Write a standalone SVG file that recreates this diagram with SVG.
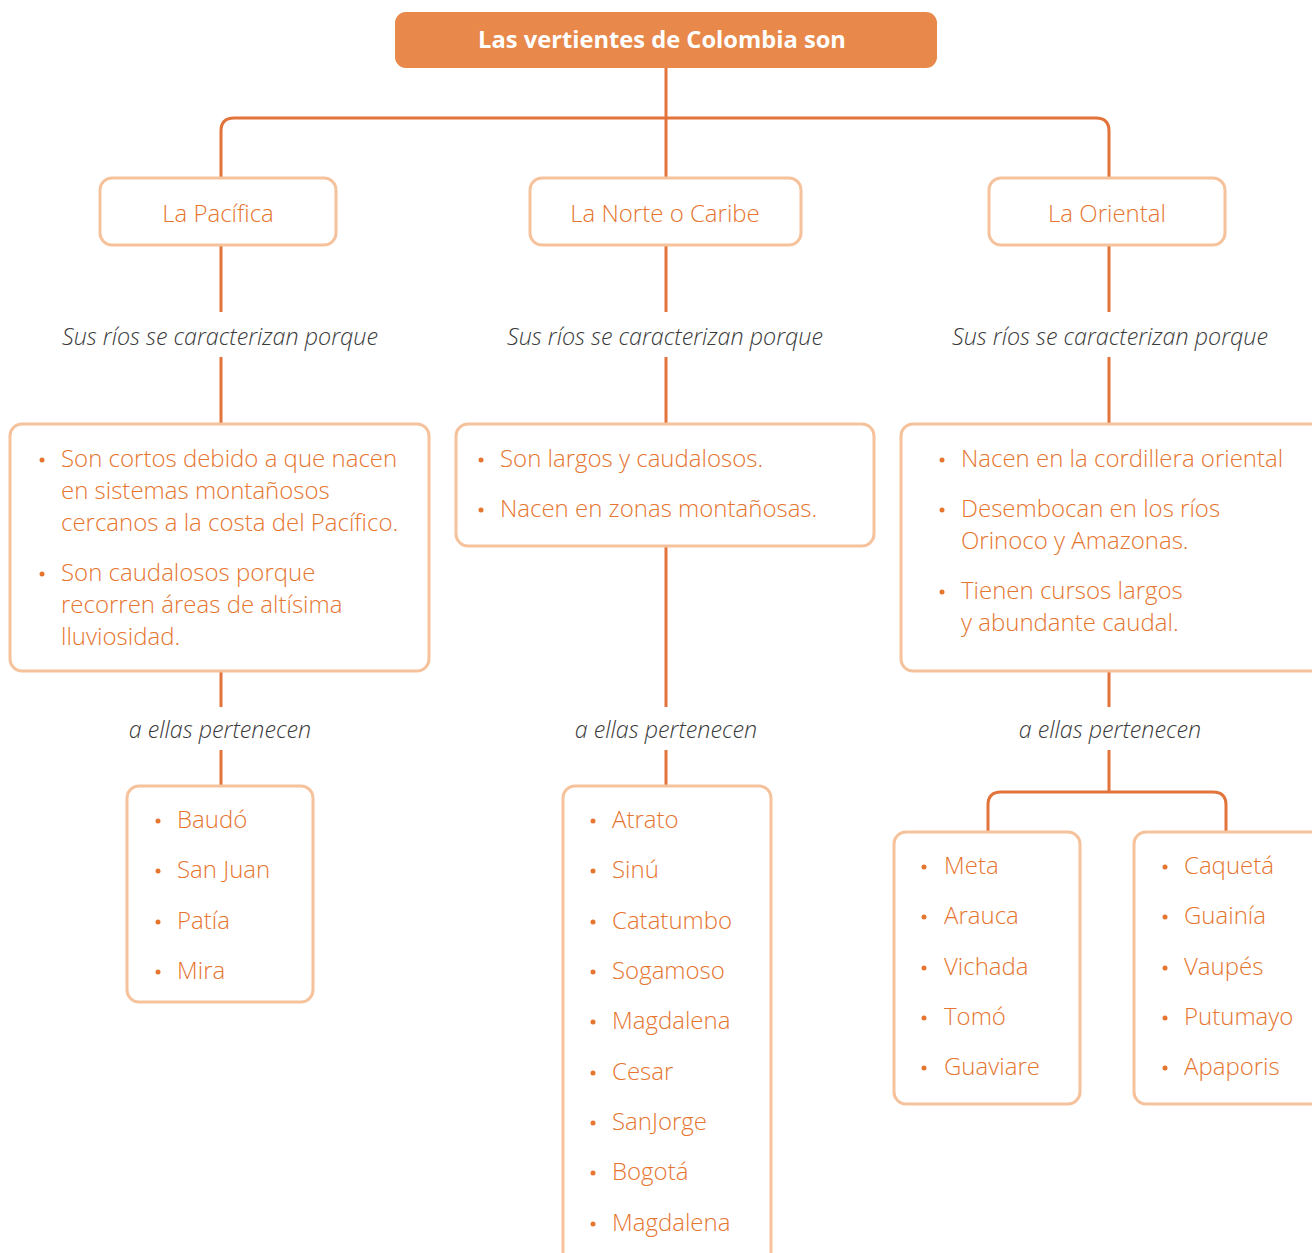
<svg xmlns="http://www.w3.org/2000/svg" width="1312" height="1253" viewBox="0 0 1312 1253">
<style>
.ln{fill:none;stroke:#E2733A;stroke-width:3}
.bx{fill:#fff;stroke:#F5C29C;stroke-width:3}
.t{font-family:"Open Sans","Liberation Sans",sans-serif;font-weight:300;font-size:24px;fill:#E6752F}
.c{text-anchor:middle}
.it{font-family:"Open Sans","Liberation Sans",sans-serif;font-weight:300;font-style:italic;font-size:23.3px;fill:#3a3a3a;text-anchor:middle}
.dot{fill:#E6752F}
</style>
<rect width="1312" height="1253" fill="#fff"/>
<g id="connectors">
<path class="ln" d="M666 68V312"/>
<path class="ln" d="M221 178V131Q221 118 234 118H1096Q1109 118 1109 131V178"/>
<path class="ln" d="M221 245V312M1109 245V312"/>
<path class="ln" d="M221 357V424M666 357V424M1109 357V424"/>
<path class="ln" d="M221 671V707M666 546V707M1109 671V707"/>
<path class="ln" d="M221 750V786M666 750V786M1109 750V792"/>
<path class="ln" d="M988 832V805Q988 792 1001 792H1213Q1226 792 1226 805V832"/>
</g>
<g id="title">
<rect x="395" y="12" width="542" height="56" rx="11" fill="#E8884A"/>
<text x="662" y="48" class="c" style="font-family:'Open Sans','Liberation Sans',sans-serif;font-weight:700;font-size:23.7px;fill:#fff">Las vertientes de Colombia son</text>
</g>
<g id="pacifica">
<rect class="bx" x="100" y="178" width="236" height="67" rx="12"/>
<text class="t c" x="218" y="222">La Pacífica</text>
</g>
<g id="norte">
<rect class="bx" x="530" y="178" width="271" height="67" rx="12"/>
<text class="t c" x="665" y="222">La Norte o Caribe</text>
</g>
<g id="oriental">
<rect class="bx" x="989" y="178" width="236" height="67" rx="12"/>
<text class="t c" x="1107" y="222">La Oriental</text>
</g>
<g id="labels">
<text class="it" x="220" y="345">Sus ríos se caracterizan porque</text>
<text class="it" x="665" y="345">Sus ríos se caracterizan porque</text>
<text class="it" x="1110" y="345">Sus ríos se caracterizan porque</text>
<text class="it" x="220" y="738">a ellas pertenecen</text>
<text class="it" x="666" y="738">a ellas pertenecen</text>
<text class="it" x="1110" y="738">a ellas pertenecen</text>
</g>
<g id="pacifica-desc">
<rect class="bx" x="10" y="424" width="419" height="247" rx="12"/>
<circle class="dot" cx="42" cy="460" r="2.5"/>
<circle class="dot" cx="42" cy="574" r="2.5"/>
<text class="t" x="61" y="467">Son cortos debido a que nacen</text>
<text class="t" x="61" y="499">en sistemas montañosos</text>
<text class="t" x="61" y="531">cercanos a la costa del Pacífico.</text>
<text class="t" x="61" y="581">Son caudalosos porque</text>
<text class="t" x="61" y="613">recorren áreas de altísima</text>
<text class="t" x="61" y="645">lluviosidad.</text>
</g>
<g id="norte-desc">
<rect class="bx" x="456" y="424" width="418" height="122" rx="12"/>
<circle class="dot" cx="481" cy="460" r="2.5"/>
<circle class="dot" cx="481" cy="510" r="2.5"/>
<text class="t" x="500" y="467">Son largos y caudalosos.</text>
<text class="t" x="500" y="517">Nacen en zonas montañosas.</text>
</g>
<g id="oriental-desc">
<rect class="bx" x="901" y="424" width="425" height="247" rx="12"/>
<circle class="dot" cx="942" cy="460" r="2.5"/>
<circle class="dot" cx="942" cy="510" r="2.5"/>
<circle class="dot" cx="942" cy="592" r="2.5"/>
<text class="t" x="961" y="467">Nacen en la cordillera oriental</text>
<text class="t" x="961" y="517">Desembocan en los ríos</text>
<text class="t" x="961" y="549">Orinoco y Amazonas.</text>
<text class="t" x="961" y="599">Tienen cursos largos</text>
<text class="t" x="961" y="631">y abundante caudal.</text>
</g>
<g id="pacifica-rios">
<rect class="bx" x="127" y="786" width="186" height="216" rx="12"/>
<circle class="dot" cx="158" cy="821" r="2.5"/>
<circle class="dot" cx="158" cy="871" r="2.5"/>
<circle class="dot" cx="158" cy="922" r="2.5"/>
<circle class="dot" cx="158" cy="972" r="2.5"/>
<text class="t" x="177" y="828">Baudó</text>
<text class="t" x="177" y="878">San Juan</text>
<text class="t" x="177" y="929">Patía</text>
<text class="t" x="177" y="979">Mira</text>
</g>
<g id="norte-rios">
<rect class="bx" x="563" y="786" width="208" height="480" rx="12"/>
<circle class="dot" cx="593" cy="821" r="2.5"/>
<circle class="dot" cx="593" cy="871" r="2.5"/>
<circle class="dot" cx="593" cy="922" r="2.5"/>
<circle class="dot" cx="593" cy="972" r="2.5"/>
<circle class="dot" cx="593" cy="1022" r="2.5"/>
<circle class="dot" cx="593" cy="1073" r="2.5"/>
<circle class="dot" cx="593" cy="1123" r="2.5"/>
<circle class="dot" cx="593" cy="1173" r="2.5"/>
<circle class="dot" cx="593" cy="1224" r="2.5"/>
<text class="t" x="612" y="828">Atrato</text>
<text class="t" x="612" y="878">Sinú</text>
<text class="t" x="612" y="929">Catatumbo</text>
<text class="t" x="612" y="979">Sogamoso</text>
<text class="t" x="612" y="1029">Magdalena</text>
<text class="t" x="612" y="1080">Cesar</text>
<text class="t" x="612" y="1130">SanJorge</text>
<text class="t" x="612" y="1180">Bogotá</text>
<text class="t" x="612" y="1231">Magdalena</text>
</g>
<g id="oriental-rios-1">
<rect class="bx" x="894" y="832" width="186" height="272" rx="12"/>
<circle class="dot" cx="924" cy="867" r="2.5"/>
<circle class="dot" cx="924" cy="917" r="2.5"/>
<circle class="dot" cx="924" cy="968" r="2.5"/>
<circle class="dot" cx="924" cy="1018" r="2.5"/>
<circle class="dot" cx="924" cy="1068" r="2.5"/>
<text class="t" x="944" y="874">Meta</text>
<text class="t" x="944" y="924">Arauca</text>
<text class="t" x="944" y="975">Vichada</text>
<text class="t" x="944" y="1025">Tomó</text>
<text class="t" x="944" y="1075">Guaviare</text>
</g>
<g id="oriental-rios-2">
<rect class="bx" x="1134" y="832" width="190" height="272" rx="12"/>
<circle class="dot" cx="1165" cy="867" r="2.5"/>
<circle class="dot" cx="1165" cy="917" r="2.5"/>
<circle class="dot" cx="1165" cy="968" r="2.5"/>
<circle class="dot" cx="1165" cy="1018" r="2.5"/>
<circle class="dot" cx="1165" cy="1068" r="2.5"/>
<text class="t" x="1184" y="874">Caquetá</text>
<text class="t" x="1184" y="924">Guainía</text>
<text class="t" x="1184" y="975">Vaupés</text>
<text class="t" x="1184" y="1025">Putumayo</text>
<text class="t" x="1184" y="1075">Apaporis</text>
</g>
</svg>
